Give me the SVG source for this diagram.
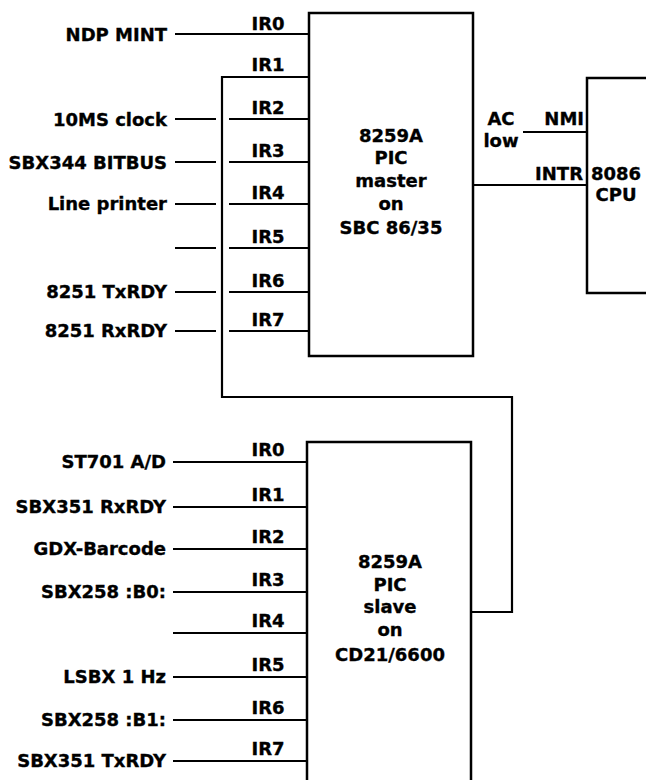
<svg xmlns="http://www.w3.org/2000/svg" width="646" height="780" viewBox="0 0 646 780">
<style>
text{font-family:"DejaVu Sans","Liberation Sans",sans-serif;font-weight:bold;font-size:18px;fill:#000;stroke:#000;stroke-width:0.35}
.r{text-anchor:end}
.m{text-anchor:middle}
.box{fill:#fff;stroke:#000;stroke-width:2.5}
.w{fill:none;stroke:#000;stroke-width:2.2}
</style>
<rect width="646" height="780" fill="#fff"/>
<g id="connectors">
<path class="w" d="M175,34H309"/>
<path class="w" d="M309,77H222V397H512V612H471"/>
<path class="w" d="M175,119H216M229,119H309"/>
<path class="w" d="M175,162H216M229,162H309"/>
<path class="w" d="M175,204H216M229,204H309"/>
<path class="w" d="M175,248H216M229,248H309"/>
<path class="w" d="M175,292H216M229,292H309"/>
<path class="w" d="M175,331H216M229,331H309"/>
<path class="w" d="M523,132H587"/>
<path class="w" d="M473,185H587"/>
<path class="w" d="M173,462H307M173,507H307M173,549H307M173,592H307M173,633H307M173,677H307M173,720H307M173,761H307"/>
</g>
<g id="master">
<rect class="box" x="309" y="13" width="164" height="343"/>
<text class="m" x="391" y="142">8259A</text>
<text class="m" x="391" y="164">PIC</text>
<text class="m" x="391" y="187">master</text>
<text class="m" x="391" y="210">on</text>
<text class="m" x="391" y="234">SBC 86/35</text>
</g>
<g id="cpu">
<rect class="box" x="587" y="78" width="80" height="215"/>
<text class="m" x="616" y="180">8086</text>
<text class="m" x="616" y="201">CPU</text>
</g>
<g id="slave">
<rect class="box" x="307" y="442" width="164" height="350"/>
<text class="m" x="390" y="568">8259A</text>
<text class="m" x="390" y="591">PIC</text>
<text class="m" x="390" y="613">slave</text>
<text class="m" x="390" y="636">on</text>
<text class="m" x="390" y="661">CD21/6600</text>
</g>
<g id="master-inputs">
<text class="r" x="167" y="41">NDP MINT</text>
<text class="r" x="167" y="126">10MS clock</text>
<text class="r" x="167" y="169">SBX344 BITBUS</text>
<text class="r" x="167" y="210">Line printer</text>
<text class="r" x="167" y="298">8251 TxRDY</text>
<text class="r" x="167" y="337">8251 RxRDY</text>
<text class="m" x="268" y="30">IR0</text>
<text class="m" x="268" y="71">IR1</text>
<text class="m" x="268" y="114">IR2</text>
<text class="m" x="268" y="157">IR3</text>
<text class="m" x="268" y="199">IR4</text>
<text class="m" x="268" y="243">IR5</text>
<text class="m" x="268" y="287">IR6</text>
<text class="m" x="268" y="326">IR7</text>
</g>
<g id="cpu-inputs">
<text class="m" x="501" y="125">AC</text>
<text class="m" x="501" y="147">low</text>
<text class="r" x="584" y="125">NMI</text>
<text class="r" x="583" y="180">INTR</text>
</g>
<g id="slave-inputs">
<text class="r" x="166" y="468">ST701 A/D</text>
<text class="r" x="166" y="513">SBX351 RxRDY</text>
<text class="r" x="166" y="555">GDX-Barcode</text>
<text class="r" x="166" y="598">SBX258 :B0:</text>
<text class="r" x="166" y="683">LSBX 1 Hz</text>
<text class="r" x="166" y="726">SBX258 :B1:</text>
<text class="r" x="166" y="767">SBX351 TxRDY</text>
<text class="m" x="268" y="456">IR0</text>
<text class="m" x="268" y="501">IR1</text>
<text class="m" x="268" y="543">IR2</text>
<text class="m" x="268" y="586">IR3</text>
<text class="m" x="268" y="627">IR4</text>
<text class="m" x="268" y="671">IR5</text>
<text class="m" x="268" y="714">IR6</text>
<text class="m" x="268" y="755">IR7</text>
</g>
</svg>
